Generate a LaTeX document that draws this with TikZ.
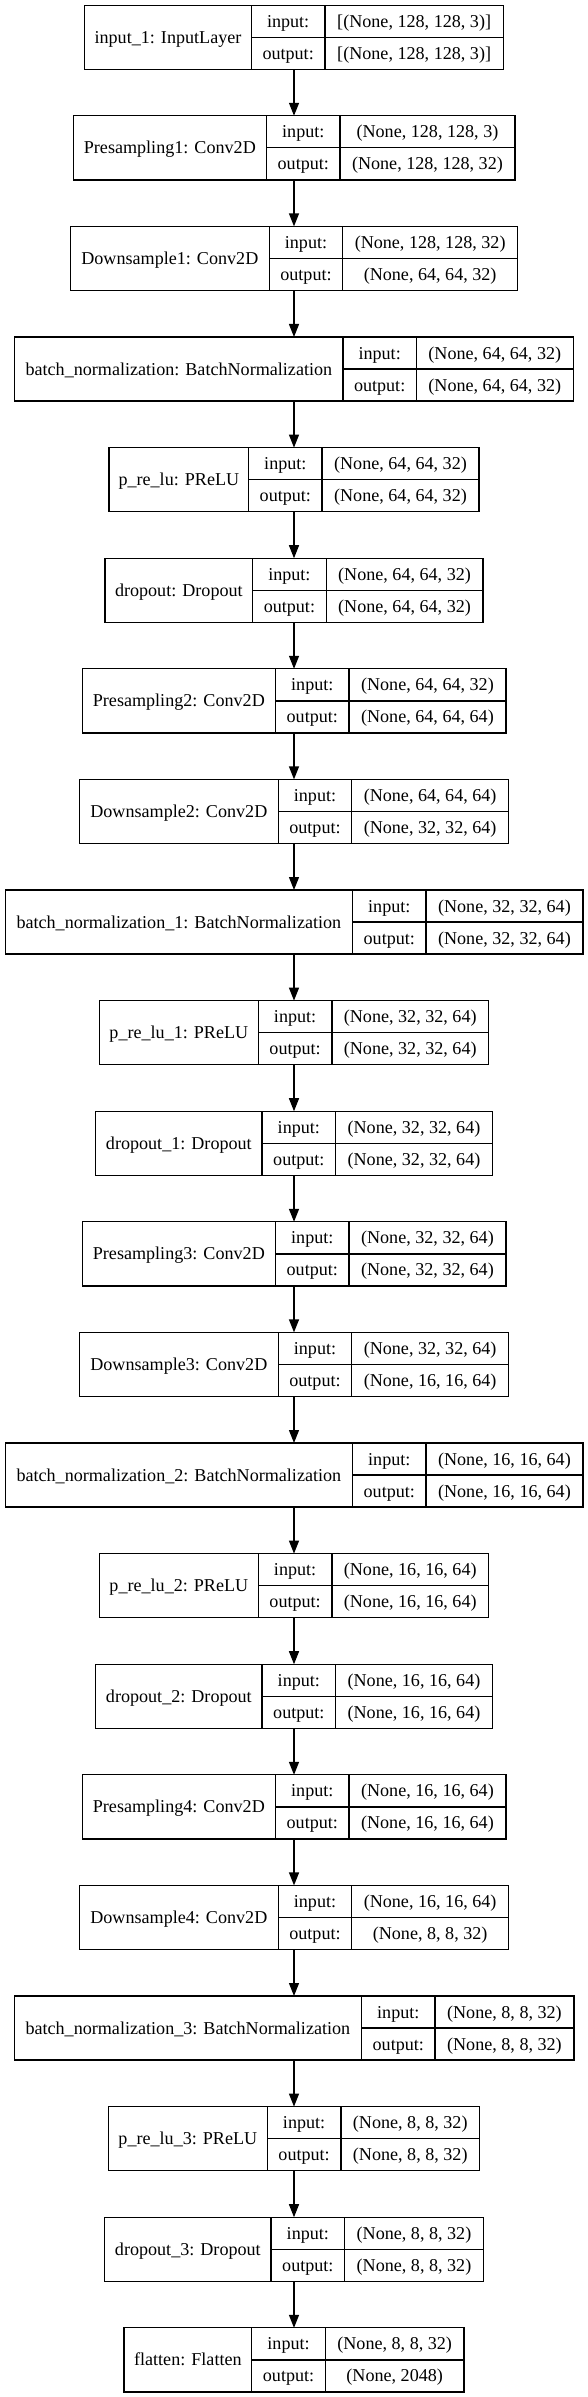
\documentclass[tikz,border=0pt]{standalone}
\usepackage{fontspec}
\setmainfont{Liberation Serif}
\usetikzlibrary{arrows.meta}
\tikzset{
  cellbase/.style={draw=black, line width=1.3pt, outer sep=0pt, inner sep=0pt,
    font=\fontsize{18.1}{21.7}\selectfont, text height=13pt, text depth=1pt, align=center},
  namecell/.style={cellbase, minimum height=64.1pt},
  iocell/.style={cellbase, minimum height=32.05pt},
  frame/.style={draw=none, outer sep=0pt, inner sep=0pt, minimum height=64.1pt},
  arr/.style={draw=black, line width=1.3pt, -{Triangle[length=13pt,width=10pt]}}
}
\newcommand{\nnlayer}[7]{%
  \pgfmathsetmacro{\lyrW}{#3+73.5+#4}%
  \pgfmathsetmacro{\lyrL}{294-\lyrW/2}%
  \pgfmathsetmacro{\lyrT}{-(5.2+110.6*#2)}%
  \pgfmathsetmacro{\lyrC}{\lyrT-32.05}%
  \node[frame, minimum width=\lyrW pt] (#1) at (294,\lyrC) {};
  \node[namecell, minimum width=#3pt, anchor=north west] (#1-n) at (\lyrL,\lyrT) {#5};
  \node[iocell, minimum width=73.5pt, anchor=north west] (#1-il) at (#1-n.north east) {input:};
  \node[iocell, minimum width=73.5pt, anchor=north west] (#1-ol) at (#1-il.south west) {output:};
  \node[iocell, minimum width=#4pt, anchor=north west] (#1-iv) at (#1-il.north east) {#6};
  \node[iocell, minimum width=#4pt, anchor=north west] (#1-ov) at (#1-iv.south west) {#7};
}
\begin{document}
\begin{tikzpicture}[x=1pt,y=1pt]
\fill[white] (0,0) rectangle (588,-2397);
\useasboundingbox (0,0) rectangle (588,-2397);
\nnlayer{L0}{0}{166.8}{178.5}{input\_1: InputLayer}{[(None, 128, 128, 3)]}{[(None, 128, 128, 3)]}
\nnlayer{L1}{1}{193.4}{174.8}{Presampling1: Conv2D}{(None, 128, 128, 3)}{(None, 128, 128, 32)}
\nnlayer{L2}{2}{198.8}{174.8}{Downsample1: Conv2D}{(None, 128, 128, 32)}{(None, 64, 64, 32)}
\nnlayer{L3}{3}{328.1}{156.8}{batch\_normalization: BatchNormalization}{(None, 64, 64, 32)}{(None, 64, 64, 32)}
\nnlayer{L4}{4}{139.5}{156.8}{p\_re\_lu: PReLU}{(None, 64, 64, 32)}{(None, 64, 64, 32)}
\nnlayer{L5}{5}{147.6}{156.8}{dropout: Dropout}{(None, 64, 64, 32)}{(None, 64, 64, 32)}
\nnlayer{L6}{6}{193.4}{156.8}{Presampling2: Conv2D}{(None, 64, 64, 32)}{(None, 64, 64, 64)}
\nnlayer{L7}{7}{198.8}{156.8}{Downsample2: Conv2D}{(None, 64, 64, 64)}{(None, 32, 32, 64)}
\nnlayer{L8}{8}{347.4}{156.8}{batch\_normalization\_1: BatchNormalization}{(None, 32, 32, 64)}{(None, 32, 32, 64)}
\nnlayer{L9}{9}{159}{156.8}{p\_re\_lu\_1: PReLU}{(None, 32, 32, 64)}{(None, 32, 32, 64)}
\nnlayer{L10}{10}{166.5}{156.8}{dropout\_1: Dropout}{(None, 32, 32, 64)}{(None, 32, 32, 64)}
\nnlayer{L11}{11}{193.4}{156.8}{Presampling3: Conv2D}{(None, 32, 32, 64)}{(None, 32, 32, 64)}
\nnlayer{L12}{12}{198.8}{156.8}{Downsample3: Conv2D}{(None, 32, 32, 64)}{(None, 16, 16, 64)}
\nnlayer{L13}{13}{347.4}{156.8}{batch\_normalization\_2: BatchNormalization}{(None, 16, 16, 64)}{(None, 16, 16, 64)}
\nnlayer{L14}{14}{159}{156.8}{p\_re\_lu\_2: PReLU}{(None, 16, 16, 64)}{(None, 16, 16, 64)}
\nnlayer{L15}{15}{166.5}{156.8}{dropout\_2: Dropout}{(None, 16, 16, 64)}{(None, 16, 16, 64)}
\nnlayer{L16}{16}{193.4}{156.8}{Presampling4: Conv2D}{(None, 16, 16, 64)}{(None, 16, 16, 64)}
\nnlayer{L17}{17}{198.8}{156.8}{Downsample4: Conv2D}{(None, 16, 16, 64)}{(None, 8, 8, 32)}
\nnlayer{L18}{18}{347.4}{138.8}{batch\_normalization\_3: BatchNormalization}{(None, 8, 8, 32)}{(None, 8, 8, 32)}
\nnlayer{L19}{19}{159}{138.8}{p\_re\_lu\_3: PReLU}{(None, 8, 8, 32)}{(None, 8, 8, 32)}
\nnlayer{L20}{20}{166.5}{138.8}{dropout\_3: Dropout}{(None, 8, 8, 32)}{(None, 8, 8, 32)}
\nnlayer{L21}{21}{127.9}{138.8}{flatten: Flatten}{(None, 8, 8, 32)}{(None, 2048)}
\foreach \a/\b in {L0/L1,L1/L2,L2/L3,L3/L4,L4/L5,L5/L6,L6/L7,L7/L8,L8/L9,L9/L10,L10/L11,L11/L12,L12/L13,L13/L14,L14/L15,L15/L16,L16/L17,L17/L18,L18/L19,L19/L20,L20/L21}
  \draw[arr] (\a) -- (\b);
\end{tikzpicture}
\end{document}
